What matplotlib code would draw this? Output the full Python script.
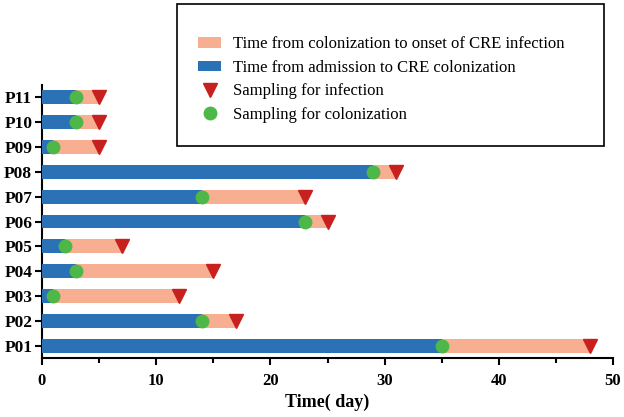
import numpy as np
import matplotlib.pyplot as plt
from matplotlib.patches import Patch, Rectangle
from matplotlib.lines import Line2D

plt.rcParams['font.family'] = ['Liberation Serif', 'DejaVu Serif']

patients = ['P01', 'P02', 'P03', 'P04', 'P05', 'P06', 'P07', 'P08', 'P09', 'P10', 'P11']
colonization = [35, 14, 1, 3, 2, 23, 14, 29, 1, 3, 3]   # days from admission
infection = [48, 17, 12, 15, 7, 25, 23, 31, 5, 5, 5]    # days to onset of infection

blue = '#2a72b5'
pink = '#f7ae91'
red = '#c8201e'
green = '#4db848'

fig = plt.figure(figsize=(6.24, 4.17), dpi=100)
ax = fig.add_axes([42 / 624, 1 - 358 / 417, (613 - 42) / 624, (358 - 85) / 417])

y = np.arange(len(patients))
ax.barh(y, infection, height=0.56, color=pink, zorder=2)
ax.barh(y, colonization, height=0.56, color=blue, zorder=3)
ax.plot(infection, y, 'v', color=red, markersize=10, zorder=4)
ax.plot(colonization, y, 'o', color=green, markersize=9, zorder=5)

ax.set_xlim(0, 50)
ax.set_ylim(-0.5, 10.5)
ax.set_yticks(y)
ax.set_yticklabels(patients, fontsize=12.5, fontweight='bold')
ax.set_xticks([0, 10, 20, 30, 40, 50])
ax.set_xticks([5, 15, 25, 35, 45], minor=True)
ax.set_xticklabels(['0', '10', '20', '30', '40', '50'], fontsize=12, fontweight='bold')
ax.tick_params(axis='both', which='major', length=5, width=1.5, direction='out')
ax.tick_params(axis='x', which='minor', length=3.5, width=1.5)
ax.tick_params(axis='x', pad=6)
ax.tick_params(axis='y', pad=2)
ax.set_xlabel('Time( day)', fontsize=13, fontweight='bold', labelpad=3)

for s in ['top', 'right']:
    ax.spines[s].set_visible(False)
for s in ['left', 'bottom']:
    ax.spines[s].set_linewidth(1.5)

# legend box
box = Rectangle((177 / 624, 1 - 146 / 417), (604 - 177) / 624, (146 - 4) / 417,
                transform=fig.transFigure, fill=False, edgecolor='black', linewidth=1.2)
fig.add_artist(box)

handles = [
    Patch(facecolor=pink, edgecolor='none'),
    Patch(facecolor=blue, edgecolor='none'),
    Line2D([], [], marker='v', color=red, linestyle='none', markersize=10),
    Line2D([], [], marker='o', color=green, linestyle='none', markersize=9),
]
labels = ['Time from colonization to onset of CRE infection',
          'Time from admission to CRE colonization',
          'Sampling for infection',
          'Sampling for colonization']
fig.legend(handles, labels, loc='upper left', bbox_to_anchor=(190 / 624, 1 - 28 / 417),
           frameon=False, fontsize=12, handlelength=1.35, handleheight=0.6,
           handletextpad=0.75, labelspacing=0.45, borderpad=0)

fig.savefig('out.png', dpi=100)
